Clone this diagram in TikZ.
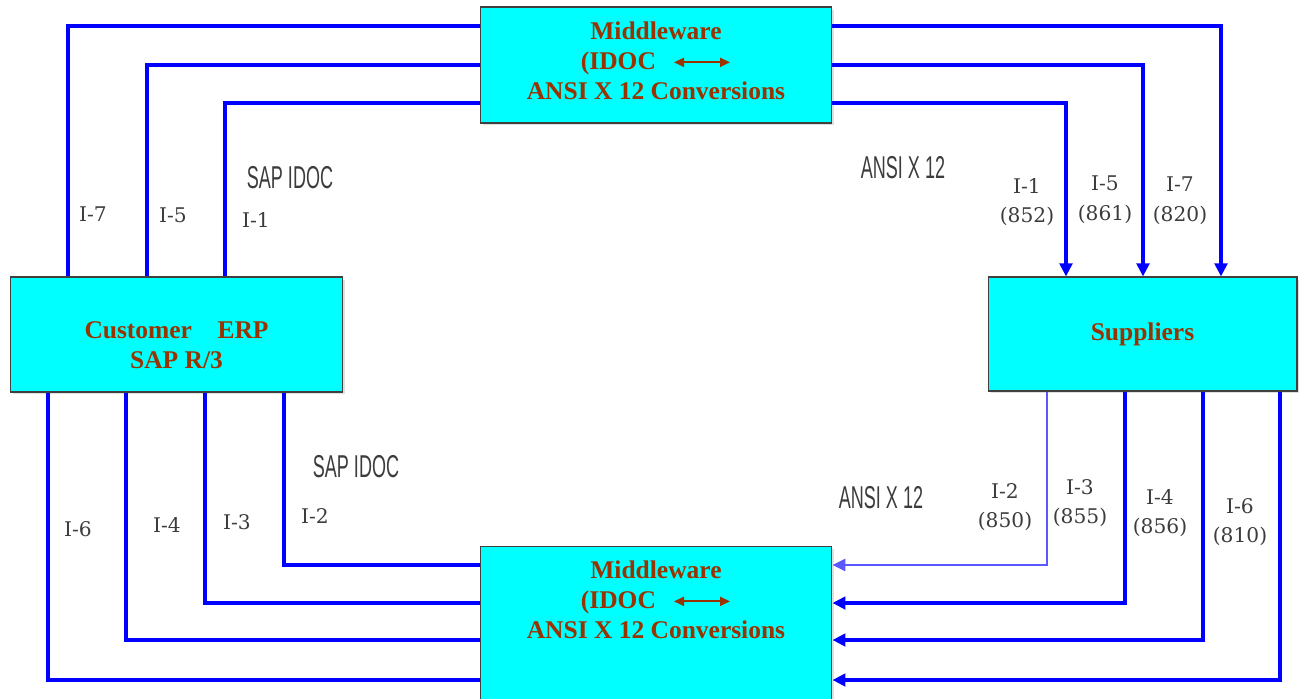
\documentclass[tikz,border=0pt]{standalone}
\usepackage{fontspec}
\setmainfont{Liberation Serif}
\newfontfamily\lblfont{DejaVu Serif}
\newfontfamily\narrowfont[FakeStretch=0.57]{Liberation Sans}
\usetikzlibrary{arrows.meta,shadows}
\definecolor{boxcyan}{RGB}{0,255,255}
\definecolor{boxtext}{RGB}{153,51,0}
\definecolor{flowblue}{RGB}{0,0,255}
\definecolor{lblgray}{RGB}{60,60,60}
\newcommand{\convarrow}{\tikz[baseline=-4pt]\draw[boxtext,line width=1.2pt,
  {Triangle[length=0.2cm,width=0.18cm]}-{Triangle[length=0.2cm,width=0.18cm]}] (0,0) -- (1.12cm,0);}

\begin{document}
\begin{tikzpicture}[
  x=0.02cm, y=-0.02cm,
  box/.style={draw=black!75,line width=0.6pt,fill=boxcyan,inner sep=0pt,
              drop shadow={shadow xshift=0.05cm,shadow yshift=-0.05cm,fill=black!25}},
  boxtxt/.style={font=\fontsize{14.5}{17}\selectfont\bfseries,text=boxtext,align=center,inner sep=0pt},
  flow/.style={draw=flowblue,line width=1.9pt},
  into/.style={flow,-{Triangle[length=0.26cm,width=0.25cm]}},
  lbl/.style={font=\lblfont\fontsize{11.5}{17}\selectfont,text=lblgray,align=center,inner sep=0pt},
  fmtlbl/.style={font=\narrowfont\fontsize{18}{20}\selectfont,text=lblgray,inner sep=0pt}
]
\useasboundingbox (0,0) rectangle (1303,698);
\clip (0,0) rectangle (1303,698);
% ---------- boxes ----------
\node[box,minimum width=7.04cm,minimum height=2.32cm] (mwtop) at (656,65) {};
\node[boxtxt,anchor=north] (mwtoptxt) at ([yshift=-0.3cm]mwtop.north)
  {Middleware\\(IDOC\hspace{0.34cm}\convarrow\\ANSI X 12 Conversions};
\node[box,minimum width=6.66cm,minimum height=2.3cm] (erp) at (176.5,334.5) {};
\node[boxtxt] (erptxt) at ([yshift=-0.22cm]erp.center) {Customer\quad ERP\\SAP R/3};
\node[box,boxtxt,minimum width=6.18cm,minimum height=2.28cm] (supp) at (1142.5,334) {Suppliers};
\node[box,minimum width=7.04cm,minimum height=3.88cm] (mwbot) at (656,643) {};
\node[boxtxt,anchor=north] (mwbottxt) at ([yshift=-0.3cm]mwbot.north)
  {Middleware\\(IDOC\hspace{0.34cm}\convarrow\\ANSI X 12 Conversions};
% ---------- customer -> middleware (top) ----------
\draw[flow] (erp.north -| 68,0)  |- (mwtop.west |- 0,26);
\draw[flow] (erp.north -| 147,0) |- (mwtop.west |- 0,65);
\draw[flow] (erp.north -| 225,0) |- (mwtop.west |- 0,103);
% ---------- middleware (top) -> suppliers ----------
\draw[into] (mwtop.east |- 0,26)  -| (supp.north -| 1221,0);
\draw[into] (mwtop.east |- 0,65)  -| (supp.north -| 1143,0);
\draw[into] (mwtop.east |- 0,103) -| (supp.north -| 1066,0);
% ---------- customer -> middleware (bottom) ----------
\draw[flow] (erp.south -| 48,0)  |- (mwbot.west |- 0,680);
\draw[flow] (erp.south -| 126,0) |- (mwbot.west |- 0,640);
\draw[flow] (erp.south -| 205,0) |- (mwbot.west |- 0,603);
\draw[flow] (erp.south -| 284,0) |- (mwbot.west |- 0,565);
% ---------- suppliers -> middleware (bottom) ----------
\draw[into,line width=0.9pt,draw=flowblue!65] (supp.south -| 1047,0) |- (mwbot.east |- 0,565);
\draw[into] (supp.south -| 1125,0) |- (mwbot.east |- 0,603);
\draw[into] (supp.south -| 1203,0) |- (mwbot.east |- 0,640);
\draw[into] (supp.south -| 1280,0) |- (mwbot.east |- 0,680);
% ---------- labels ----------
\node[fmtlbl] (idoctop) at (290,178) {SAP IDOC};
\node[fmtlbl] (idocbot) at (356,467) {SAP IDOC};
\node[fmtlbl] (ansitop) at (903,168) {ANSI X 12};
\node[fmtlbl] (ansibot) at (881,498) {ANSI X 12};
\node[lbl] (l7) at (93,214) {I-7};
\node[lbl] (l5) at (173,215) {I-5};
\node[lbl] (l1) at (256,220) {I-1};
\node[lbl] (l6) at (78,529) {I-6};
\node[lbl] (l4) at (167,525) {I-4};
\node[lbl] (l3) at (237,522) {I-3};
\node[lbl] (l2) at (315,516) {I-2};
\node[lbl] (s1) at (1027,202) {I-1\\(852)};
\node[lbl] (s5) at (1105,200) {I-5\\(861)};
\node[lbl] (s7) at (1180,201) {I-7\\(820)};
\node[lbl] (s2) at (1005,507) {I-2\\(850)};
\node[lbl] (s3) at (1080,503) {I-3\\(855)};
\node[lbl] (s4) at (1160,513) {I-4\\(856)};
\node[lbl] (s6) at (1240,522) {I-6\\(810)};
\end{tikzpicture}
\end{document}
